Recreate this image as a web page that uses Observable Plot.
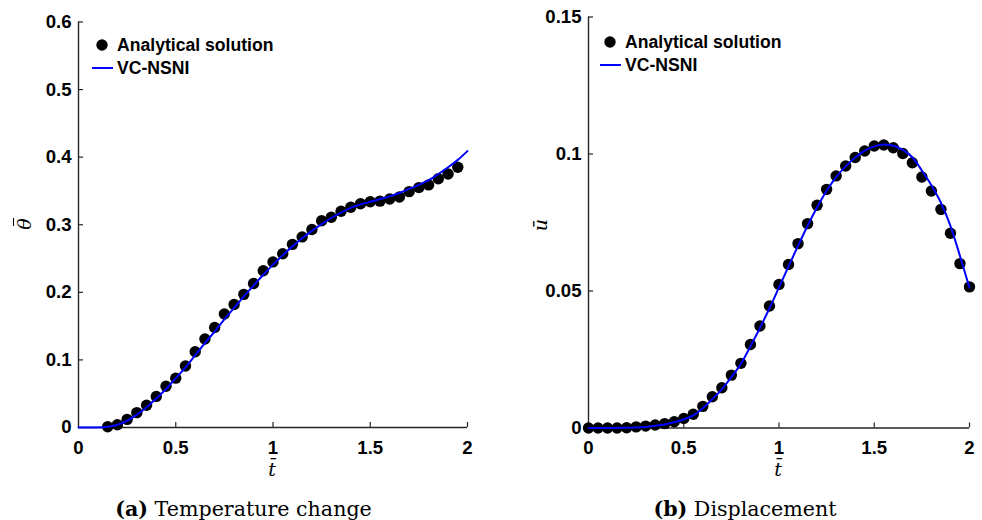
<!DOCTYPE html>
<html>
<head>
<meta charset="utf-8">
<script src="https://cdn.jsdelivr.net/npm/d3@7"></script>
<script src="https://cdn.jsdelivr.net/npm/@observablehq/plot@0.6"></script>
<style>
  html, body { margin: 0; padding: 0; background: #fff; }
  #fig { position: relative; width: 982px; height: 520px; overflow: hidden; }
  #fig > svg { position: absolute; top: 0; }
</style>
</head>
<body>
<div id="fig"></div>
<script>
// Temperature change: analytical samples and VC-NSNI curve
const timeA = [0.15, 0.2, 0.25, 0.3, 0.35, 0.4, 0.45, 0.5, 0.55, 0.6, 0.65, 0.7, 0.75, 0.8, 0.85, 0.9, 0.95, 1.0,
  1.05, 1.1, 1.15, 1.2, 1.25, 1.3, 1.35, 1.4, 1.45, 1.5, 1.55, 1.6, 1.65, 1.7, 1.75, 1.8, 1.85, 1.9, 1.95];
const thetaExact = [0.001, 0.004, 0.012, 0.022, 0.033, 0.046, 0.061, 0.073, 0.091, 0.112, 0.131, 0.148, 0.168, 0.182,
  0.197, 0.213, 0.232, 0.245, 0.257, 0.271, 0.282, 0.293, 0.306, 0.311, 0.320, 0.326, 0.331, 0.334, 0.335, 0.338,
  0.341, 0.349, 0.355, 0.359, 0.368, 0.375, 0.385];

const timeLine = [0, 0.05, 0.1, 0.15, 0.2, 0.25, 0.3, 0.35, 0.4, 0.45, 0.5, 0.55, 0.6, 0.65, 0.7, 0.75, 0.8, 0.85,
  0.9, 0.95, 1.0, 1.05, 1.1, 1.15, 1.2, 1.25, 1.3, 1.35, 1.4, 1.45, 1.5, 1.55, 1.6, 1.65, 1.7, 1.75, 1.8, 1.85,
  1.9, 1.95, 2.0];
const thetaNum = [0, 0, 0, 0.001, 0.004, 0.010, 0.019, 0.030, 0.043, 0.057, 0.073, 0.089, 0.107, 0.125, 0.142,
  0.160, 0.177, 0.194, 0.210, 0.226, 0.241, 0.255, 0.268, 0.280, 0.291, 0.301, 0.310, 0.318, 0.325, 0.330, 0.334,
  0.338, 0.342, 0.347, 0.353, 0.359, 0.366, 0.375, 0.385, 0.396, 0.409];

// Displacement: analytical samples and VC-NSNI curve
const timeB = timeLine;
const dispExact = [0, 0, 0, 0, 0.0001, 0.0004, 0.0007, 0.0011, 0.0016, 0.0023, 0.0035, 0.0050, 0.0079, 0.0114,
  0.0147, 0.0193, 0.0236, 0.0305, 0.0372, 0.0445, 0.0524, 0.0597, 0.0673, 0.0746, 0.0813, 0.0871, 0.0920, 0.0956,
  0.0987, 0.1011, 0.1029, 0.1033, 0.1023, 0.1002, 0.0968, 0.0916, 0.0865, 0.0798, 0.0711, 0.0600, 0.0515];
const dispNum = [0, 0, 0, 0, 0.0001, 0.0002, 0.0004, 0.0008, 0.0013, 0.0021, 0.0031, 0.0046, 0.0072, 0.0105,
  0.0141, 0.0186, 0.0234, 0.0298, 0.0365, 0.0437, 0.0513, 0.0590, 0.0665, 0.0738, 0.0806, 0.0866, 0.0916, 0.0955,
  0.0987, 0.1012, 0.1028, 0.1035, 0.1030, 0.1015, 0.0988, 0.0940, 0.0886, 0.0822, 0.0738, 0.0628, 0.0512];

const xTicks = [0, 0.5, 1, 1.5, 2];
const xTickLabels = ["0", "0.5", "1", "1.5", "2"];
const yTicksA = [0, 0.1, 0.2, 0.3, 0.4, 0.5, 0.6];
const yTickLabelsA = ["0", "0.1", "0.2", "0.3", "0.4", "0.5", "0.6"];
const yTicksB = [0, 0.05, 0.1, 0.15];
const yTickLabelsB = ["0", "0.05", "0.1", "0.15"];

const seriesNames = ["Analytical solution", "VC-NSNI"];
const captions = [["(a)", "Temperature change"], ["(b)", "Displacement"]];

const axisColor = "#262626";
const lineColor = "#0000ff";
const tickFont = {fontFamily: "'Liberation Sans', Arial, sans-serif", fontSize: "18.6px", fontWeight: "bold", color: "#000", background: "transparent", overflow: "visible"};

function panel({times, exact, numT, num, yTicks, yLabels, yMax, margins, left}) {
  const W = 491, H = 480;
  const innerW = W - margins.left - margins.right;
  const innerH = H - margins.top - margins.bottom;
  const pts = times.map((t, i) => ({t, v: exact[i]}));
  const crv = numT.map((t, i) => ({t, v: num[i]}));
  const svg = Plot.plot({
    width: W, height: H,
    marginLeft: margins.left, marginRight: margins.right,
    marginTop: margins.top, marginBottom: margins.bottom,
    style: tickFont,
    x: {domain: [0, 2]},
    y: {domain: [0, yMax]},
    marks: [
      Plot.axisX({ticks: xTicks, tickSize: 0, tickPadding: 13, tickFormat: d => xTickLabels[xTicks.indexOf(d)], label: null, fill: "#000"}),
      Plot.axisY({ticks: yTicks, tickSize: 0, tickPadding: 7, tickFormat: d => yLabels[yTicks.indexOf(d)], label: null, fill: "#000"}),
      Plot.ruleX(xTicks.slice(1), {stroke: axisColor, strokeWidth: 1.2, insetTop: innerH - 5}),
      Plot.ruleY(yTicks.slice(1), {stroke: axisColor, strokeWidth: 1.2, insetRight: innerW - 5}),
      Plot.ruleX([0], {stroke: axisColor, strokeWidth: 1.4}),
      Plot.ruleY([0], {stroke: axisColor, strokeWidth: 1.4}),
      Plot.dot(pts, {x: "t", y: "v", r: 5.7, fill: "#000", stroke: null}),
      Plot.line(crv, {x: "t", y: "v", stroke: lineColor, strokeWidth: 2, curve: "monotone-x"})
    ]
  });
  svg.style.left = left + "px";
  return svg;
}

const fig = document.getElementById("fig");

const svgA = panel({times: timeA, exact: thetaExact, numT: timeLine, num: thetaNum,
  yTicks: yTicksA, yLabels: yTickLabelsA, yMax: 0.6,
  margins: {left: 78, right: 24, top: 21.5, bottom: 53}, left: 0});
const svgB = panel({times: timeB, exact: dispExact, numT: timeLine, num: dispNum,
  yTicks: yTicksB, yLabels: yTickLabelsB, yMax: 0.15,
  margins: {left: 97, right: 13, top: 16.5, bottom: 52.5}, left: 491});
fig.appendChild(svgA);
fig.appendChild(svgB);

// Legends inside each panel
function legend(svg, x0, y0) {
  const g = d3.select(svg).append("g")
    .attr("font-family", "'Liberation Sans', Arial, sans-serif")
    .attr("font-size", 17.6).attr("font-weight", "bold").attr("fill", "#000")
    .attr("text-anchor", "start");
  g.append("circle").attr("cx", x0 + 10).attr("cy", y0).attr("r", 5.7).attr("fill", "#000");
  g.append("text").attr("x", x0 + 25).attr("y", y0).attr("dy", "0.35em").text(seriesNames[0]);
  g.append("line").attr("x1", x0).attr("x2", x0 + 21).attr("y1", y0 + 23).attr("y2", y0 + 23)
    .attr("stroke", lineColor).attr("stroke-width", 2);
  g.append("text").attr("x", x0 + 25).attr("y", y0 + 23).attr("dy", "0.35em").text(seriesNames[1]);
}
legend(svgA, 92, 45);
legend(svgB, 600 - 491, 42);

// Axis titles and sub-captions
const over = d3.select(fig).append("svg")
  .attr("width", 982).attr("height", 520).style("left", "0px");
const serif = "'DejaVu Serif', 'Liberation Serif', serif";

function axisTitle(x, y, txt, rot, bar) {
  const g = over.append("g").attr("transform", `translate(${x},${y}) rotate(${rot})`);
  g.append("text")
    .attr("text-anchor", "middle").attr("dy", "0.35em")
    .attr("font-family", serif).attr("font-style", "italic").attr("font-size", 19)
    .attr("fill", "#000").text(txt);
  if (bar) {
    g.append("line").attr("x1", -2).attr("x2", 6).attr("y1", -10.5).attr("y2", -10.5)
      .attr("stroke", "#000").attr("stroke-width", 1.1);
  }
}
axisTitle(272, 469, "t\u0304", 0, false);
axisTitle(778, 469, "t\u0304", 0, false);
axisTitle(24, 224, "\u03b8", -90, true);
axisTitle(540, 225, "u\u0304", -90, false);

function caption(x, [tag, txt]) {
  const t = over.append("text").attr("x", x).attr("y", 516).attr("text-anchor", "middle")
    .attr("font-family", serif).attr("font-size", 20.6).attr("fill", "#000");
  t.append("tspan").attr("font-weight", "bold").text(tag);
  t.append("tspan").text(" " + txt);
}
caption(243.5, captions[0]);
caption(745, captions[1]);
</script>
</body>
</html>
